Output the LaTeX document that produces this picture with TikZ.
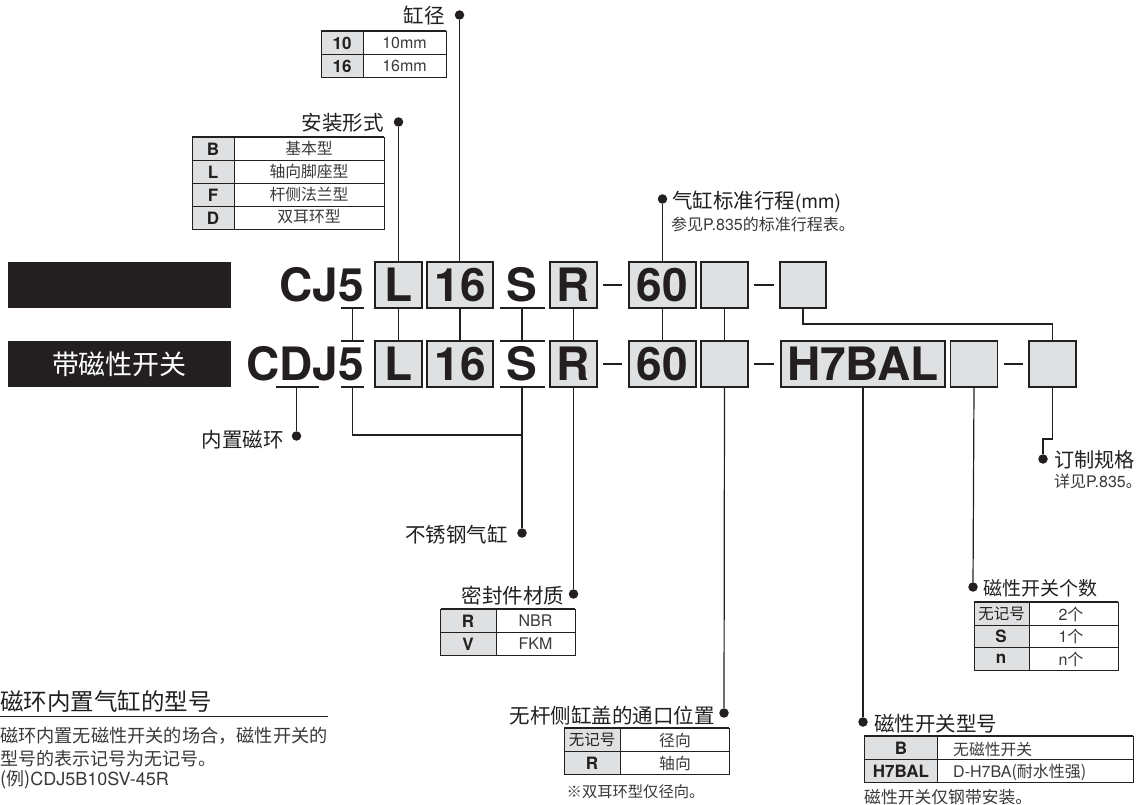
\documentclass[tikz,border=0pt]{standalone}
\usepackage{fontspec}
\setmainfont{Noto Sans CJK SC}
\newfontfamily\cjk{Noto Sans CJK SC}
\newfontfamily\hv{TeX Gyre Heros}
\definecolor{ink}{HTML}{231F20}
\definecolor{soft}{HTML}{3C3839}
\definecolor{cell}{HTML}{DFE0E2}
\newcommand{\fz}[1]{\fontsize{#1}{#1}\selectfont}
\tikzset{
 codebox/.style={draw=ink,line width=1.3pt,fill=cell,inner sep=0pt,font=\hv\bfseries\fz{46},text=ink},
 codetxt/.style={inner sep=0pt,font=\hv\bfseries\fz{46},text=ink},
 bar/.style={fill=ink,draw=none,text=white,font=\fz{27}},
 lead/.style={draw=ink,line width=1.2pt},
 dot/.style={circle,fill=ink,minimum size=9.5pt,inner sep=0pt},
 head/.style={inner sep=0pt,text=ink,font=\fz{20.5}},
 small/.style={inner sep=0pt,text=soft,font=\fz{16}},
 keytxt/.style={inner sep=0pt,text=ink,font=\hv\bfseries\fz{17}},
 valtxt/.style={inner sep=0pt,text=soft,font=\fz{15.8}},
 latin/.style={inner sep=0pt,text=soft,font=\hv\fz{16}},
 grid/.style={draw=ink,line width=.7pt},
 toprule/.style={draw=ink,line width=1.4pt},
 hyphenbar/.style={draw=ink,line width=1.8pt},
}
\newcommand{\tabfill}[5]{% x0 col x1 y0 y1
 \fill[cell] (#1,#4) rectangle (#2,#5);
 \draw[grid] (#1,#4) rectangle (#3,#5);
 \draw[grid] (#2,#4) -- (#2,#5);
 \draw[toprule] (#1,#4) -- (#3,#4);}
\begin{document}
\begin{tikzpicture}[x=1pt,y=-1pt]
\useasboundingbox (0,0) rectangle (1144,805);
\fill[white] (0,0) rectangle (1144,805);
% black bars
\node[bar,minimum width=223pt,minimum height=46pt,inner sep=0pt] (bar1) at (119.5,285) {};
\node[bar,minimum width=223pt,minimum height=46pt,inner sep=0pt] (bar2) at (119.5,364) {带磁性开关};
% row 1 code
\newcommand{\cb}[6]{\node[codebox,minimum width=#3 pt,minimum height=46pt] (#1) at (#2,#4) {#5};}
\cb{La}{398.5}{47}{285}{L}{}
\cb{Sa}{460}{66}{285}{16}{}
\cb{Ra}{573.5}{47}{285}{R}{}
\cb{Na}{662.5}{67}{285}{60}{}
\cb{Ea}{724.5}{47}{285}{}{}
\cb{Xa}{803}{46}{285}{}{}
\cb{Lb}{398.5}{47}{364}{L}{}
\cb{Sb}{460}{66}{364}{16}{}
\cb{Rb}{573.5}{47}{364}{R}{}
\cb{Nb}{662.5}{67}{364}{60}{}
\cb{Eb}{724.5}{47}{364}{}{}
\cb{Hb}{863}{164}{364}{H7BAL}{}
\cb{Gb}{974}{47}{364}{}{}
\cb{Xb}{1052.5}{47}{364}{}{}
\node[codetxt,anchor=base east] (cj) at (364,301.5) {CJ5};
\node[codetxt,anchor=base east] (cdj) at (364,380.5) {CDJ5};
\node[codetxt] (ssa) at (522,285) {S};
\node[codetxt] (ssb) at (522,364) {S};
% dashes
\draw[hyphenbar] (603,285) -- (622,285);
\draw[hyphenbar] (754,285) -- (774,285);
\draw[hyphenbar] (603,364) -- (622,364);
\draw[hyphenbar] (754,364) -- (774,364);
\draw[hyphenbar] (1004,364) -- (1023,364);
% underlines
\draw[lead] (341,308) -- (364,308);
\draw[lead] (341,341) -- (364,341);
\draw[lead] (341,387) -- (364,387);
\draw[lead] (499.5,308) -- (544.5,308);
\draw[lead] (499.5,341) -- (544.5,341);
\draw[lead] (499.5,387) -- (544.5,387);
\draw[lead] (276,387) -- (319,387);
% connectors between rows
\draw[lead] (352.5,308) -- (352.5,341);
\draw[lead] (La.south) -- (Lb.north);
\draw[lead] (Sa.south) -- (Sb.north);
\draw[lead] (522,308) -- (522,341);
\draw[lead] (Ra.south) -- (Rb.north);
\draw[lead] (Na.south) -- (Nb.north);
\draw[lead] (Ea.south) -- (Eb.north);
\draw[lead] (Xa.south) -- (803,324) -- (1052.5,324) -- (Xb.north);
% dots
\node[dot] (d1) at (459.5,15) {};
\node[dot] (d2) at (398.5,122) {};
\node[dot] (d3) at (662.5,199) {};
\node[dot] (d4) at (296.5,436) {};
\node[dot] (d5) at (522,533) {};
\node[dot] (d6) at (573.5,594) {};
\node[dot] (d7) at (724,713) {};
\node[dot] (d8) at (863,722) {};
\node[dot] (d9) at (973,587) {};
\node[dot] (d10) at (1043,459) {};
\draw[lead] (d1) -- (459.5,262);
\draw[lead] (d2) -- (La.north);
\draw[lead] (d3) -- (Na.north);
\draw[lead] (296.5,387) -- (d4);
\draw[lead] (352.5,387) -- (352.5,435) -- (522,435);
\draw[lead] (522,387) -- (d5);
\draw[lead] (Rb.south) -- (d6);
\draw[lead] (Eb.south) -- (d7);
\draw[lead] (Hb.south) -- (d8);
\draw[lead] (Gb.south) -- (d9);
\draw[lead] (Xb.south) -- (1052.5,439) -- (1043,439) -- (d10);
% labels
\node[head,anchor=east] (t1) at (445,16) {缸径};
\node[head,anchor=east] (t2) at (384,123) {安装形式};
\node[head,anchor=west] (t3) at (672,202) {气缸标准行程{\hv\fz{19.6}(mm)}};
\node[small,anchor=west] (t3b) at (671,224) {参见{\hv P.835}的标准行程表。};
\node[head,anchor=east] (t4) at (284,440) {内置磁环};
\node[head,anchor=east] (t5) at (508,535) {不锈钢气缸};
\node[head,anchor=east] (t6) at (564.5,596) {密封件材质};
\node[head,anchor=east] (t7) at (715,716) {无杆侧缸盖的通口位置};
\node[head,anchor=west] (t8) at (874,724) {磁性开关型号};
\node[head,anchor=west,font=\fz{19}] (t9) at (983,588) {磁性开关个数};
\node[head,anchor=west,font=\fz{20.2}] (t10) at (1054,460) {订制规格};
\node[small,anchor=west] (t10b) at (1054,481) {详见{\hv P.835}。};
% table bore
\tabfill{321}{363}{446}{31}{77}
\draw[grid] (321,54) -- (446,54);
\node[keytxt] (b1) at (342,43) {10};
\node[keytxt] (b2) at (342,66) {16};
\node[latin] (b3) at (404.5,43) {10mm};
\node[latin] (b4) at (404.5,66) {16mm};
% table mount
\tabfill{192}{234}{384}{137}{229}
\draw[grid] (192,160) -- (384,160) (192,183) -- (384,183) (192,206) -- (384,206);
\node[keytxt] (m1) at (213,149) {B};
\node[keytxt] (m2) at (213,172) {L};
\node[keytxt] (m3) at (213,195) {F};
\node[keytxt] (m4) at (213,218) {D};
\node[valtxt] (m5) at (309,148) {基本型};
\node[valtxt] (m6) at (309,171) {轴向脚座型};
\node[valtxt] (m7) at (309,194) {杆侧法兰型};
\node[valtxt] (m8) at (309,217) {双耳环型};
% table seal
\tabfill{440.5}{496}{575}{609}{655}
\draw[grid] (440.5,632) -- (575,632);
\node[keytxt] (s1) at (468,621) {R};
\node[keytxt] (s2) at (468,644) {V};
\node[latin] (s3) at (535.5,621) {NBR};
\node[latin] (s4) at (535.5,644) {FKM};
% table port
\tabfill{564}{620}{729}{728}{774}
\draw[grid] (564,751) -- (729,751);
\node[valtxt,font=\fz{15.5},text=ink] (p1) at (592,740) {无记号};
\node[keytxt] (p2) at (592,763) {R};
\node[valtxt] (p3) at (675,740) {径向};
\node[valtxt] (p4) at (675,763) {轴向};
\node[small,anchor=west,font=\fz{15.3}] (p5) at (566.5,792) {※双耳环型仅径向。};
% table switch type
\tabfill{864}{937}{1133}{736}{782}
\draw[grid] (864,759) -- (1133,759);
\node[keytxt] (w1) at (901,748) {B};
\node[keytxt] (w2) at (901,771) {H7BAL};
\node[valtxt,anchor=west] (w3) at (953,750) {无磁性开关};
\node[latin,anchor=west] (w4) at (953,772) {D-H7BA{\cjk\fz{16}(耐水性强)}};
\node[small,anchor=west,font=\fz{16.8}] (w5) at (864,797) {磁性开关仅钢带安装。};
% table count
\tabfill{974}{1029}{1118}{602}{670}
\draw[grid] (974,625) -- (1118,625) (974,647) -- (1118,647);
\node[valtxt,font=\fz{15.5},text=ink] (c1) at (1001.5,614) {无记号};
\node[keytxt] (c2) at (1001,636) {S};
\node[keytxt] (c3) at (1001,659) {n};
\node[latin] (c4) at (1071,614) {2{\cjk 个}};
\node[latin] (c5) at (1071,636) {1{\cjk 个}};
\node[latin] (c6) at (1071,659) {n{\cjk 个}};
% note
\node[head,anchor=west,font=\fz{23.5}] (n1) at (0,701) {磁环内置气缸的型号};
\draw[draw=ink,line width=1.4pt] (0,716.5) -- (328,716.5);
\node[small,anchor=east,font=\fz{18.2}] (n2) at (328,736) {磁环内置无磁性开关的场合，磁性开关的};
\node[small,anchor=west,font=\fz{18}] (n3) at (0,759) {型号的表示记号为无记号。};
\node[small,anchor=west,font=\fz{18}] (n4) at (0,780) {(例){\hv CDJ5B10SV-45R}};
\end{tikzpicture}
\end{document}
